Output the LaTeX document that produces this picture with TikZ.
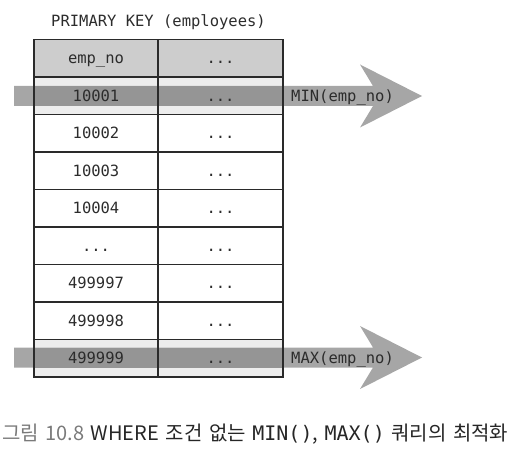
\documentclass[tikz,border=0pt]{standalone}
\usepackage{fontspec}
\setmainfont{Noto Sans CJK KR}
\newfontfamily\monof{DejaVu Sans Mono}
\newfontfamily\krf{Noto Sans CJK KR}
\definecolor{hdrfill}{HTML}{CDCDCD}
\definecolor{rowlite}{HTML}{EDEDED}
\definecolor{bandout}{HTML}{A6A6A6}
\definecolor{bandin}{HTML}{959595}
\definecolor{gridc}{HTML}{2A2A2A}
\definecolor{txtc}{HTML}{2C2C2C}
\definecolor{capgray}{HTML}{7A7A7A}
\definecolor{capdark}{HTML}{262626}
\tikzset{
  celltxt/.style={font=\monof\fontsize{15.5}{18}\selectfont, text=txtc, inner sep=0pt,
    text height=11.3pt, text depth=0pt},
  gridline/.style={draw=gridc, line width=1.6pt},
  bandarrow/.style={fill=bandout, draw=none},
}
\newcommand{\mydots}{...}
\begin{document}
\begin{tikzpicture}[x=1pt,y=-1pt]
\useasboundingbox (0,0) rectangle (511,457);
% row fills
\fill[hdrfill] (34,39.5) rectangle (283,77);
\fill[rowlite] (34,77) rectangle (283,114.5);
\fill[rowlite] (34,339.5) rectangle (283,377);
% arrows
\path[bandarrow] (14,86) -- (373,86) -- (360,64.5) -- (422,96)
   -- (360,127.5) -- (373,106) -- (14,106) -- cycle;
\fill[bandin] (34,86) rectangle (283,106);
\path[bandarrow] (14,347.5) -- (373,347.5) -- (360,326) -- (422,357.5)
   -- (360,389) -- (373,367.5) -- (14,367.5) -- cycle;
\fill[bandin] (34,347.5) rectangle (283,367.5);
% title
\node[celltxt, anchor=base] (title) at (158.5,27) {PRIMARY KEY (employees)};
% cells
\node[celltxt] (k0) at (96,58.25) {emp\_no};
\node[celltxt] (k1) at (96,95.75) {10001};
\node[celltxt] (k2) at (96,133.25) {10002};
\node[celltxt] (k3) at (96,170.75) {10003};
\node[celltxt] (k4) at (96,208.25) {10004};
\node[celltxt] (k5) at (96,245.75) {\mydots};
\node[celltxt] (k6) at (96,283.25) {499997};
\node[celltxt] (k7) at (96,320.75) {499998};
\node[celltxt] (k8) at (96,358.25) {499999};
\foreach \i in {0,1,2,3,4,5,6,7,8}{
  \node[celltxt] (d\i) at (220.5,58.25+37.5*\i) {\mydots};
}
% grid
\draw[gridline] (34,39.5) rectangle (283,377);
\draw[gridline] (158,39.5) -- (158,377);
\foreach \i in {1,2,3,4,5,6,7,8}{
  \draw[gridline] (34,39.5+37.5*\i) -- (283,39.5+37.5*\i);
}
% labels
\node[celltxt, anchor=west] (minl) at (291,96) {MIN(emp\_no)};
\node[celltxt, anchor=west] (maxl) at (291,357.5) {MAX(emp\_no)};
% caption
\node[anchor=west, inner sep=0pt, font=\krf\fontsize{20}{22}\selectfont] (cap) at (2,434)
  {\spaceskip=6.5pt\textcolor{capgray}{그림 10.8} \textcolor{capdark}{WHERE 조건 없는 {\monof MIN()}, {\monof MAX()} 쿼리의 최적화}};
\end{tikzpicture}
\end{document}
